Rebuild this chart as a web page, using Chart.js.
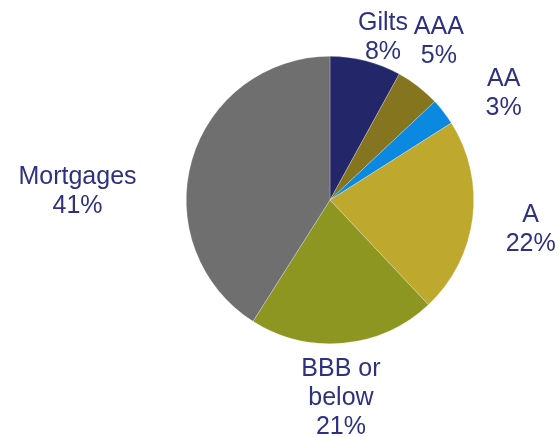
<!DOCTYPE html>
<html>
<head>
<meta charset="utf-8">
<script src="https://cdn.jsdelivr.net/npm/chart.js@4/dist/chart.umd.min.js"></script>
<style>
    html, body { margin: 0; padding: 0; background: #ffffff; }
    #wrap { position: relative; width: 558px; height: 437px; }
</style>
</head>
<body>
<div id="wrap"><canvas id="assetsChart"></canvas></div>
<script>
// --- Data ---
const categories = ['Gilts', 'AAA', 'AA', 'A', 'BBB or below', 'Mortgages'];
const shares = [8, 5, 3, 22, 21, 41];
const labelLines = [['Gilts'], ['AAA'], ['AA'], ['A'], ['BBB or', 'below'], ['Mortgages']];
const sliceColors = ['#232669', '#85751f', '#0b88e0', '#bea92e', '#8e9622', '#6f6f6f'];

// label placement: distance as a multiple of the radius, and a small angle nudge (deg)
const labelRadius = [1.20, 1.35, 1.424, 1.409, 1.367, 1.758];
const labelNudge = [3.5, -3.7, 5.85, 0.6, 2.2, -13.9];

const textColor = '#2e3182';
const fontSize = 25;
const lineHeight = 29;

// draws the category name + percentage outside each slice
const outsideLabels = {
    id: 'outsideLabels',
    afterDatasetsDraw(chart) {
        const ctx = chart.ctx;
        const arcs = chart.getDatasetMeta(0).data;
        ctx.save();
        ctx.fillStyle = textColor;
        ctx.font = `${fontSize}px "Liberation Sans", Arial, sans-serif`;
        ctx.textAlign = 'center';
        ctx.textBaseline = 'alphabetic';
        arcs.forEach((arc, i) => {
            const { x, y, startAngle, endAngle, outerRadius } = arc.getProps(['x', 'y', 'startAngle', 'endAngle', 'outerRadius'], true);
            const mid = (startAngle + endAngle) / 2 + labelNudge[i] * Math.PI / 180;
            const r = outerRadius * labelRadius[i];
            const cx = x + Math.cos(mid) * r;
            const cy = y + Math.sin(mid) * r;
            const lines = labelLines[i].concat([shares[i] + '%']);
            const capH = fontSize * 0.716;
            const first = cy - (lines.length - 1) * lineHeight / 2 + capH / 2;
            lines.forEach((txt, j) => {
                ctx.fillText(txt, cx, first + j * lineHeight);
            });
        });
        ctx.restore();
    }
};

const ctx = document.getElementById('assetsChart').getContext('2d');
new Chart(ctx, {
    type: 'pie',
    data: {
        labels: categories,
        datasets: [{
            data: shares,
            backgroundColor: sliceColors,
            borderColor: 'rgba(255, 255, 255, 0.5)',
            borderWidth: 0.5
        }]
    },
    options: {
        responsive: true,
        maintainAspectRatio: false,
        animation: false,
        layout: {
            padding: { left: 186, right: 84, top: 56, bottom: 93 }
        },
        plugins: {
            legend: { display: false },
            tooltip: { enabled: false }
        }
    },
    plugins: [outsideLabels]
});
</script>
</body>
</html>
